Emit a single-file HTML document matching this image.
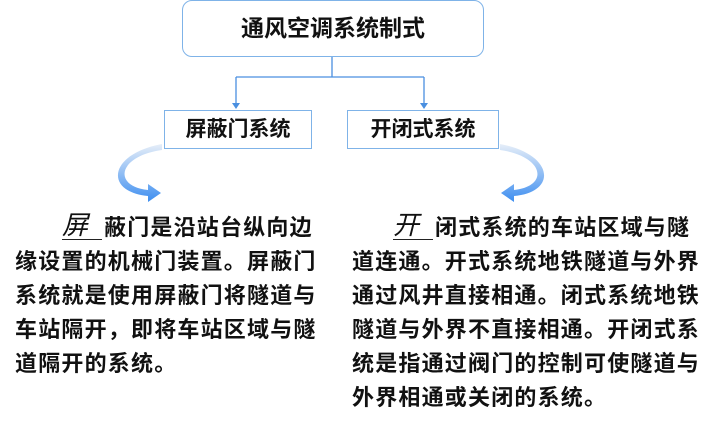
<!DOCTYPE html>
<html><head><meta charset="utf-8"><style>
body{margin:0;width:720px;height:423px;background:#fff;position:relative;overflow:hidden;font-family:"Liberation Sans","Noto Sans CJK SC",sans-serif;color:#111}
.b{position:absolute;box-sizing:border-box;border:1.5px solid #7fb3e8;background:#fff;text-align:center;font-weight:bold}
.l{position:absolute;font-size:22px;line-height:34px;white-space:nowrap;letter-spacing:1.2px;font-weight:bold}
.u{font-style:italic;font-weight:normal;font-size:26px;display:inline-block;width:40px;height:28px;line-height:28px;border-bottom:1.2px solid #222;margin-right:2px;vertical-align:top}
</style></head><body>
<div class="b" style="left:182px;top:0;width:302px;height:57px;border-radius:10px;font-size:23px;line-height:55px">通风空调系统制式</div>
<svg width="720" height="423" style="position:absolute;left:0;top:0">
<defs>
<linearGradient id="g" x1="0" y1="0" x2="0" y2="1"><stop offset="0" stop-color="#e6eef8"/><stop offset="1" stop-color="#3d8ef0"/></linearGradient>
</defs>
<g stroke="#4a8fe0" stroke-width="1.3" fill="none">
<path d="M332 57V77M236 77H424M236 77V104M424 77V104"/>
</g>
<path d="M232 103l4 6 4-6z M420 103l4 6 4-6z" fill="#4a8fe0"/>
<path d="M162 150 C118 156 112 186 148 190 L148 184 L161 193 L148 202 L148 196 C104 192 108 154 162 144 Z" fill="url(#g)"/>
<path d="M500 150 C544 156 550 186 514 190 L514 184 L501 193 L514 202 L514 196 C558 192 554 154 500 144 Z" fill="url(#g)"/>
</svg>
<div class="b" style="left:164px;top:110px;width:148px;height:39px;font-size:21px;line-height:37px">屏蔽门系统</div>
<div class="b" style="left:347px;top:110px;width:152px;height:39px;font-size:21px;line-height:37px">开闭式系统</div>
<div class="l" style="left:62px;top:211px"><span class="u">屏</span>蔽门是沿站台纵向边</div>
<div class="l" style="left:15px;top:245px">缘设置的机械门装置。屏蔽门</div>
<div class="l" style="left:15px;top:279px">系统就是使用屏蔽门将隧道与</div>
<div class="l" style="left:15px;top:313px">车站隔开，即将车站区域与隧</div>
<div class="l" style="left:15px;top:347px">道隔开的系统。</div>
<div class="l" style="left:393px;top:211px"><span class="u">开</span>闭式系统的车站区域与隧</div>
<div class="l" style="left:352px;top:245px">道连通。开式系统地铁隧道与外界</div>
<div class="l" style="left:352px;top:279px">通过风井直接相通。闭式系统地铁</div>
<div class="l" style="left:352px;top:313px">隧道与外界不直接相通。开闭式系</div>
<div class="l" style="left:352px;top:347px">统是指通过阀门的控制可使隧道与</div>
<div class="l" style="left:352px;top:381px">外界相通或关闭的系统。</div>
</body></html>
